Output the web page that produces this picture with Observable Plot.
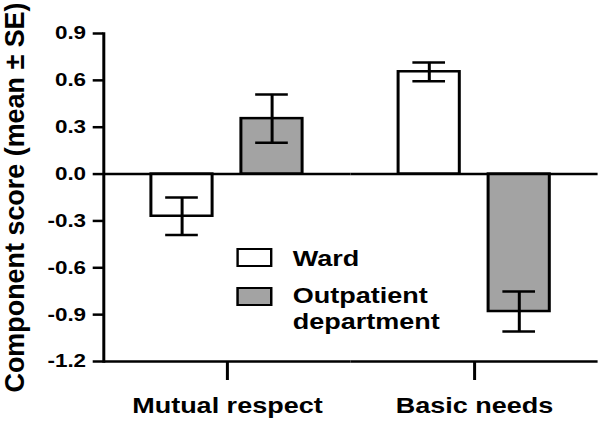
<!DOCTYPE html>
<html><head><meta charset="utf-8">
<script src="https://cdn.jsdelivr.net/npm/d3@7"></script>
<script src="https://cdn.jsdelivr.net/npm/@observablehq/plot@0.6"></script>
<style>
html,body{margin:0;padding:0;background:#fff;}
#wrap{position:relative;width:500px;height:430px;transform:scaleX(1.2);transform-origin:0 0;font-family:"Liberation Sans",Arial,sans-serif;}
#wrap svg{display:block;}
.lg-box{position:absolute;box-sizing:border-box;border:2.5px solid #000;width:30px;height:19px;left:197px;}
.lg-text{position:absolute;left:244px;width:135px;font-weight:bold;font-size:22.5px;line-height:26px;color:#000;}
</style></head>
<body><div id="wrap"></div>
<script>
const categories = ["Mutual respect", "Basic needs"];
const groups = ["Ward", "Outpatient department"];
const wardMean = [-0.27, 0.655];
const wardSE = [0.12, 0.06];
const outpatientMean = [0.355, -0.88];
const outpatientSE = [0.155, 0.128];
const yTicks = [0.9, 0.6, 0.3, 0, -0.3, -0.6, -0.9, -1.2];
const yTickLabels = ["0.9", "0.6", "0.3", "0.0", "-0.3", "-0.6", "-0.9", "-1.2"];
const yLabel = "Component score (mean ± SE)";
const groupFills = ["#ffffff", "#a3a3a3"];

const rows = [];
categories.forEach((c, i) => {
  rows.push({category: c, group: groups[0], mean: wardMean[i], se: wardSE[i]});
  rows.push({category: c, group: groups[1], mean: outpatientMean[i], se: outpatientSE[i]});
});

const font = '"Liberation Sans", Arial, sans-serif';
const chart = Plot.plot({
  width: 500, height: 430,
  marginTop: 33, marginBottom: 69, marginLeft: 86.25, marginRight: 1.7,
  style: {fontFamily: font, background: "white", color: "black"},
  fx: {domain: categories, padding: 0},
  x: {domain: groups, paddingInner: 0.318, paddingOuter: 0.518, axis: null},
  y: {domain: [-1.2, 0.9]},
  color: {domain: groups, range: groupFills},
  marks: [
    Plot.barY(rows, {fx: "category", x: "group", y1: 0, y2: "mean", fill: "group", stroke: "black", strokeWidth: 2.5}),
    Plot.ruleY([0], {strokeWidth: 2.5}),
    Plot.ruleY([-1.2], {strokeWidth: 2.5}),
    Plot.frame({anchor: "left", facetAnchor: "left", strokeWidth: 2.5}),
    Plot.ruleX(rows, {fx: "category", x: "group", y1: d => d.mean - d.se, y2: d => d.mean + d.se, strokeWidth: 2.5}),
    Plot.tickY(rows, {fx: "category", x: "group", y: d => d.mean + d.se, insetLeft: 11.9, insetRight: 11.9, strokeWidth: 2.5}),
    Plot.tickY(rows, {fx: "category", x: "group", y: d => d.mean - d.se, insetLeft: 11.9, insetRight: 11.9, strokeWidth: 2.5}),
    Plot.axisY({ticks: yTicks, tickFormat: d => yTickLabels[yTicks.indexOf(d)], tickSize: 8.75, tickPadding: 6,
      fontSize: 18.7, fontWeight: "bold", strokeWidth: 2.5, label: yLabel, labelAnchor: "center", labelOffset: 83, labelArrow: "none"}),
    Plot.axisFx({anchor: "bottom", tickSize: 19, tickPadding: 17, fontSize: 22.5, fontWeight: "bold", strokeWidth: 2.5, label: null})
  ]
});

const wrap = document.getElementById("wrap");
wrap.appendChild(chart);

const lbl = chart.querySelector('g[aria-label="y-axis label"] text');
if (lbl) {
  lbl.setAttribute("font-size", "23");
  lbl.setAttribute("textLength", "390");
  lbl.setAttribute("lengthAdjust", "spacingAndGlyphs");
}

const boxTops = [248, 287];
const textTops = [246.4, 283.4];
groups.forEach((g, i) => {
  const box = document.createElement("div");
  box.className = "lg-box";
  box.style.top = boxTops[i] + "px";
  box.style.background = groupFills[i];
  wrap.appendChild(box);
  const t = document.createElement("div");
  t.className = "lg-text";
  t.style.top = textTops[i] + "px";
  t.textContent = g;
  wrap.appendChild(t);
});
</script>
</body></html>
